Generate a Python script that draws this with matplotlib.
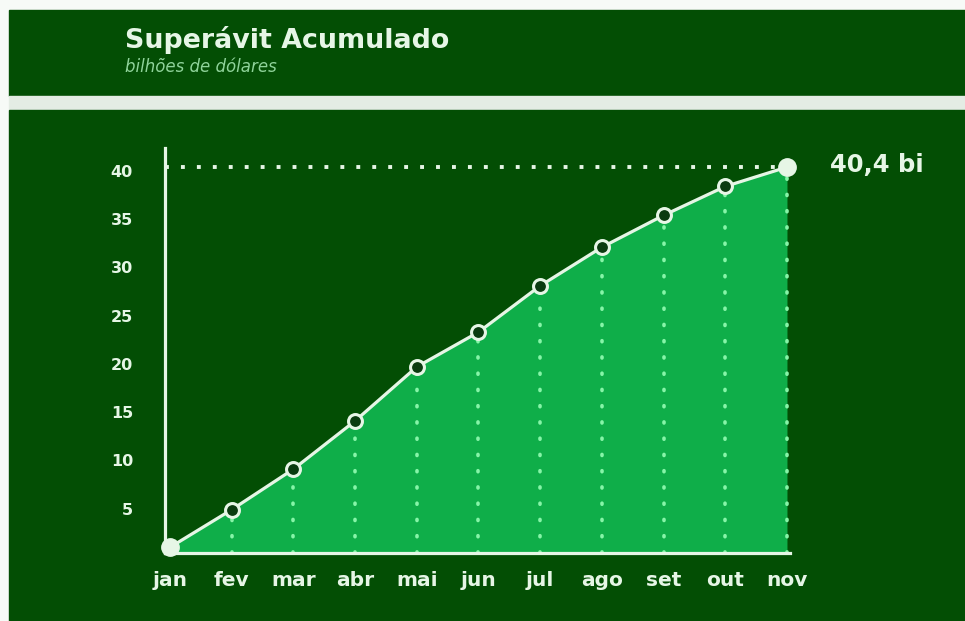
import numpy as np
import matplotlib
matplotlib.use('Agg')
import matplotlib.pyplot as plt
from matplotlib.patches import Rectangle

# data
months = ['jan', 'fev', 'mar', 'abr', 'mai', 'jun', 'jul', 'ago', 'set', 'out', 'nov']
surplus = [1.0, 4.9, 9.1, 14.1, 19.7, 23.3, 28.1, 32.1, 35.4, 38.4, 40.4]
yticks = [5, 10, 15, 20, 25, 30, 35, 40]
last_label = '40,4 bi'

plt.rcParams['font.family'] = ['DejaVu Sans']

W, H = 965, 621
dark = '#034e04'
fill = '#0fae49'
txt = '#e6f6e6'
mint = '#86f5a8'

def fx(px):
	return px / W

def fy(py):
	return 1 - py / H

fig = plt.figure(figsize=(W/100, H/100), dpi=100)
fig.patch.set_facecolor('#f7faf7')

# background panels
fig.patches.append(Rectangle((fx(9), fy(96)), 1, fy(10) - fy(96), transform=fig.transFigure, color=dark, zorder=-5))
fig.patches.append(Rectangle((fx(9), fy(110)), 1, fy(96) - fy(110), transform=fig.transFigure, color='#e4ece4', zorder=-5))
fig.patches.append(Rectangle((fx(9), 0), 1, fy(110), transform=fig.transFigure, color=dark, zorder=-5))

fig.text(fx(125), fy(48), 'Superávit Acumulado', color=txt, fontsize=19.4, fontweight='bold', va='baseline')
fig.text(fx(125), fy(71.5), 'bilhões de dólares', color='#8fd39a', fontsize=12, style='italic', va='baseline')

ax = fig.add_axes([fx(165), fy(553), fx(790) - fx(165), fy(148) - fy(553)])
ax.set_facecolor('none')
ax.set_zorder(2)

x = np.arange(len(months))
ybot = 0.41
ax.set_xlim(-0.081, 10.049)
ax.set_ylim(ybot, 42.38)

ax.fill_between(x, surplus, ybot, color=fill, lw=0, zorder=1)

# dotted drop lines
for xi, yi in zip(x[1:], surplus[1:]):
	ax.plot([xi, xi], [ybot, yi], color=mint, lw=2.6, dashes=[0.3, 4.2], dash_capstyle='round', zorder=2)

# horizontal dotted line at the final value
ax.plot([ax.get_xlim()[0], x[-1]], [surplus[-1], surplus[-1]], color=txt, lw=2.8, dashes=[1.0, 3.1], zorder=2)

ax.plot(x, surplus, color=txt, lw=2.3, zorder=3)
ax.plot(x[1:-1], surplus[1:-1], 'o', ms=10, mfc='#0a3c10', mec=txt, mew=2.2, zorder=4)
ax.plot([x[0], x[-1]], [surplus[0], surplus[-1]], 'o', ms=12.5, color=txt, zorder=5, clip_on=False)

ax.annotate(last_label, (x[-1], surplus[-1]), xytext=(31, -3.5), textcoords='offset points',
	color=txt, fontsize=17.5, fontweight='bold', va='baseline', ha='left', annotation_clip=False)

for s in ['top', 'right']:
	ax.spines[s].set_visible(False)
for s in ['left', 'bottom']:
	ax.spines[s].set_color(txt)
	ax.spines[s].set_linewidth(2.3)

ax.set_xticks(x)
ax.set_xticklabels(months)
ax.set_yticks(yticks)
ax.set_yticklabels([str(v) for v in yticks])
ax.tick_params(length=0, colors=txt)
ax.tick_params(axis='x', pad=13, labelsize=14.5)
ax.tick_params(axis='y', pad=23, labelsize=11.5)
for lab in ax.get_xticklabels() + ax.get_yticklabels():
	lab.set_fontweight('bold')

fig.savefig('out.png', dpi=100, facecolor=fig.get_facecolor())
